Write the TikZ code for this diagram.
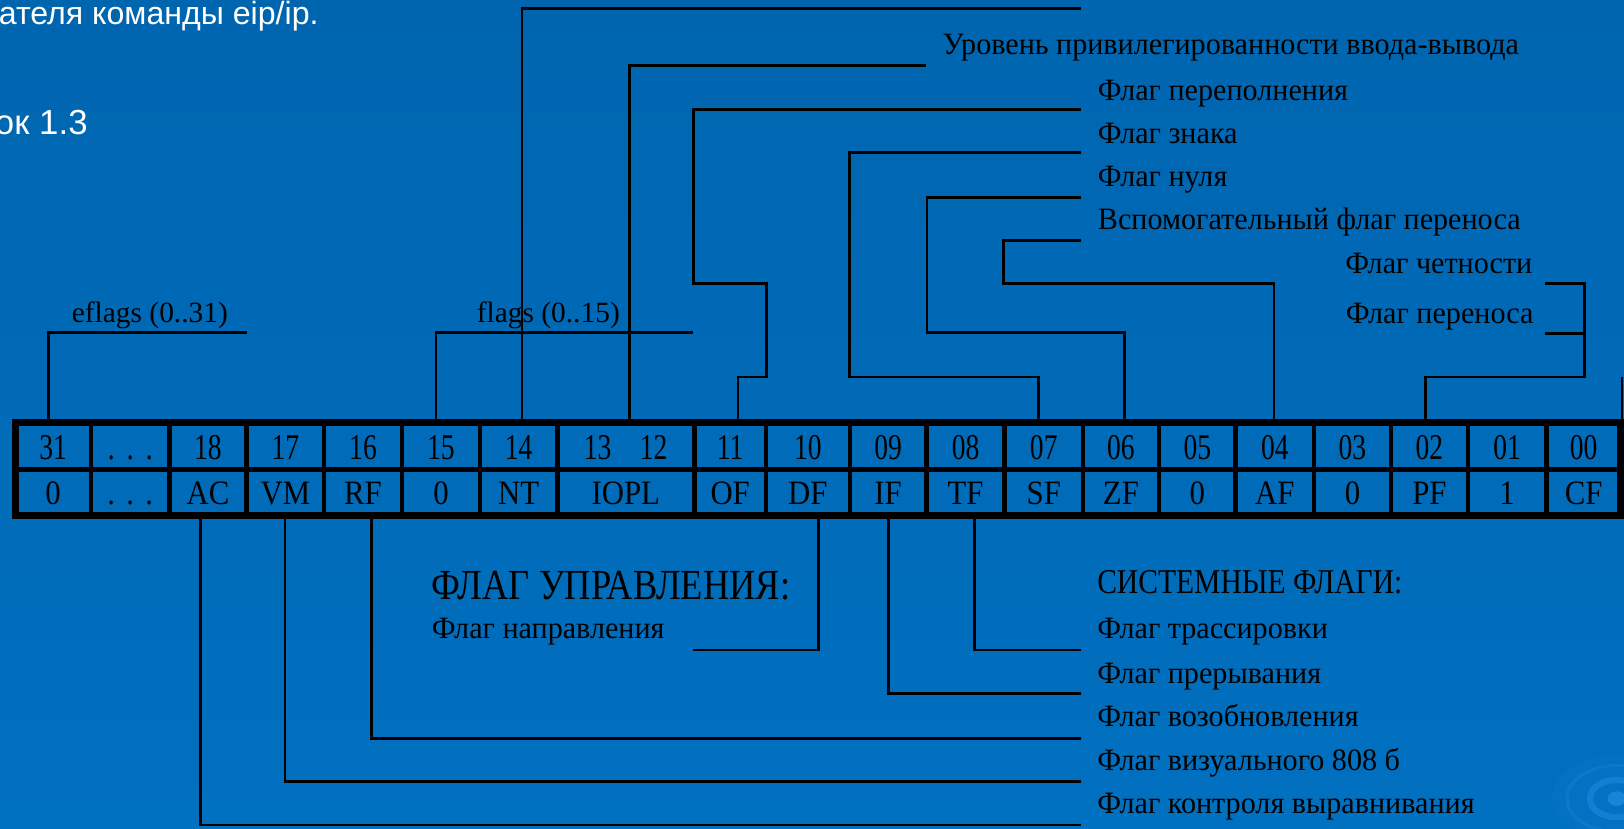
\documentclass[tikz,border=0pt]{standalone}
\usepackage{fontspec}
\setmainfont{Liberation Serif}
\newfontfamily\sansf{Liberation Sans}
\newfontfamily\labf[FakeStretch=0.97]{Liberation Serif}
\newfontfamily\condf[FakeStretch=0.85]{Liberation Serif}
\newfontfamily\namef[FakeStretch=0.9]{Liberation Serif}
\newfontfamily\digf[FakeStretch=0.76]{Liberation Serif}
\definecolor{bgtop}{RGB}{0,101,175}
\definecolor{bgbot}{RGB}{0,112,192}
\definecolor{swirlc}{RGB}{40,150,235}
\begin{document}
\begin{tikzpicture}[x=0.5pt,y=-0.5pt,
  conn/.style={line width=1.35pt},
  regouter/.style={line width=3.3pt},
  reginner/.style={line width=2.2pt},
  num/.style={font=\digf\fontsize{17.5}{17.5}\selectfont, anchor=base, inner sep=0pt},
  fname/.style={font=\namef\fontsize{16.5}{16.5}\selectfont, anchor=base, inner sep=0pt},
  lab/.style={font=\labf\fontsize{15}{15}\selectfont, anchor=base west, inner sep=0pt},
  brk/.style={font=\fontsize{14.2}{14.2}\selectfont, anchor=base west, inner sep=0pt},
  headbig/.style={font=\condf\fontsize{20.7}{20.7}\selectfont, anchor=base west, inner sep=0pt},
  headsm/.style={font=\condf\fontsize{16.8}{16.8}\selectfont, anchor=base west, inner sep=0pt},
  slidetext/.style={text=white, anchor=base east, inner sep=0pt}
]
\path[use as bounding box] (0,0) rectangle (1568,800);
\clip (0,0) rectangle (1568,800);
\shade[top color=bgtop, bottom color=bgbot] (0,0) rectangle (1568,800);

% swirl decoration
\begin{scope}[shift={(1561,771)}]
  \fill[swirlc, opacity=0.08] (0,0) ellipse [x radius=62, y radius=42];
  \draw[swirlc, opacity=0.22, line width=1.5pt] (0,0) ellipse [x radius=48, y radius=32];
  \draw[swirlc, opacity=0.4, line width=3pt] (0,0) ellipse [x radius=26, y radius=18];
  \fill[swirlc, opacity=0.55] (0,0) ellipse [x radius=9, y radius=7];
\end{scope}

% slide text (cut at the left edge, as in the slide)
\node[slidetext, font=\sansf\fontsize{15.5}{15.5}\selectfont] (s1) at (308,24) {вателя команды eip/ip.};
\node[slidetext, font=\sansf\fontsize{16.8}{16.8}\selectfont] (s2) at (85,130) {ок 1.3};

% register grid
\draw[reginner] (14.7,453.5) -- (1565,453.5);
\foreach \x in {88,163.5,238,313,388,463.5,538,670.5,739.5,820.5,894.5,970,1045.5,1119,1193,1268.6,1343,1417.3,1493}
  \draw[reginner] (\x,408) -- (\x,497.5);
\draw[regouter] (14.7,408) rectangle (1565,497.5);

% register texts
\foreach \x/\a/\b/\n in {51.35/31/0/31, 125.75/{.\,\,.\,\,.}/{.\,\,.\,\,.}/dots, 200.75/18/AC/18, 275.5/17/VM/17,
  350.5/16/RF/16, 425.75/15/0/15, 500.75/14/NT/14, 705/11/OF/11, 780/10/DF/10, 857.5/09/IF/09,
  932.25/08/TF/08, 1007.75/07/SF/07, 1082.25/06/ZF/06, 1156/05/0/05, 1230.8/04/AF/04,
  1305.8/03/0/03, 1380.15/02/PF/02, 1455.15/01/1/01, 1529/00/CF/00}
{
  \node[num] (t\n) at (\x,444) {\a};
  \node[fname] (b\n) at (\x,487) {\b};
}
\node[num] (t13) at (577,444) {13};
\node[num] (t12) at (631,444) {12};
\node[fname] (b1312) at (604.25,487) {IOPL};

% labels
\node[brk] (leflags) at (69,311.5) {eflags (0..31)};
\node[brk] (lflags) at (460,311.5) {flags (0..15)};
\node[lab] (lIO) at (909.6,53) {Уровень привилегированности ввода-вывода};
\node[lab] (lOF) at (1059.7,96.6) {Флаг переполнения};
\node[lab] (lSF) at (1059.7,138.4) {Флаг знака};
\node[lab] (lZF) at (1059.7,180) {Флаг нуля};
\node[lab] (lAF) at (1059.7,222) {Вспомогательный флаг переноса};
\node[lab] (lPF) at (1298.6,263.6) {Флаг четности};
\node[lab] (lCF) at (1299,312) {Флаг переноса};
\node[headbig] (hCtl) at (416.6,579) {ФЛАГ УПРАВЛЕНИЯ:};
\node[lab] (lDF) at (416.6,616.3) {Флаг направления};
\node[headsm] (hSys) at (1059,573) {СИСТЕМНЫЕ ФЛАГИ:};
\node[lab] (lTF) at (1059,616) {Флаг трассировки};
\node[lab] (lIF) at (1059,659.7) {Флаг прерывания};
\node[lab] (lRF) at (1059,701.6) {Флаг возобновления};
\node[lab] (lVM) at (1059,744) {Флаг визуального 808 б};
\node[lab] (lAC) at (1059,785.3) {Флаг контроля выравнивания};

% connector coordinates (top)
\coordinate (pE) at (46.5,406);   \coordinate (eE) at (238,321);
\coordinate (pF15) at (421,406);  \coordinate (eF) at (669,321);
\coordinate (pNT) at (504,406);   \coordinate (eNT) at (1044,8);
\coordinate (pIO) at (607.6,406); \coordinate (eIO) at (893.7,63);
\coordinate (pOF) at (712.5,406); \coordinate (of1) at (740,364); \coordinate (of2) at (669.5,274); \coordinate (eOF) at (1044,105.6);
\coordinate (pSF) at (1002.5,406); \coordinate (sf1) at (820,364); \coordinate (eSF) at (1044,147.4);
\coordinate (pZF) at (1086,406); \coordinate (zf1) at (895,321); \coordinate (eZF) at (1044,190.5);
\coordinate (pAF) at (1230,406); \coordinate (af1) at (969,274); \coordinate (eAF) at (1044,232.4);
\coordinate (pPF) at (1376,406); \coordinate (pf1) at (1530,364); \coordinate (ePF) at (1492,274);
\coordinate (pf2) at (1530,322); \coordinate (eCF) at (1492,322);
\coordinate (pCF) at (1566,406); \coordinate (cf1) at (1566,364);

\draw[conn] (pE) |- (eE);
\draw[conn] (pF15) |- (eF);
\draw[conn] (pNT) |- (eNT);
\draw[conn] (pIO) |- (eIO);
\draw[conn] (pOF) |- (of1) |- (of2) |- (eOF);
\draw[conn] (pSF) |- (sf1) |- (eSF);
\draw[conn] (pZF) |- (zf1) |- (eZF);
\draw[conn] (pAF) |- (af1) |- (eAF);
\draw[conn] (pPF) |- (pf1) |- (ePF);
\draw[conn] (pf2) -- (eCF);
\draw[conn] (pCF) -- (cf1);

% connector coordinates (bottom)
\coordinate (pDF) at (790,499);   \coordinate (eDF) at (669,627.6);
\coordinate (pIF) at (857.7,499); \coordinate (eIF) at (1044,669.4);
\coordinate (pTF) at (941,499);   \coordinate (eTF) at (1044,627.6);
\coordinate (pRF) at (358.5,499); \coordinate (eRF) at (1044,712.9);
\coordinate (pVM) at (275.2,499); \coordinate (eVM) at (1044,754.7);
\coordinate (pAC) at (193.4,499); \coordinate (eAC) at (1044,796.6);

\draw[conn] (pDF) |- (eDF);
\draw[conn] (pIF) |- (eIF);
\draw[conn] (pTF) |- (eTF);
\draw[conn] (pRF) |- (eRF);
\draw[conn] (pVM) |- (eVM);
\draw[conn] (pAC) |- (eAC);
\end{tikzpicture}
\end{document}
